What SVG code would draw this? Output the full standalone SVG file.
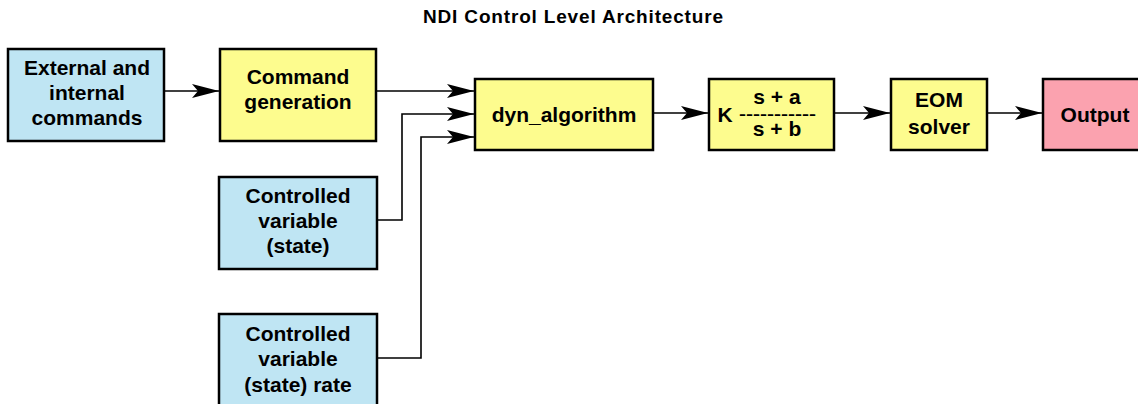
<svg xmlns="http://www.w3.org/2000/svg" width="1138" height="404" viewBox="0 0 1138 404">
<style>
.t{font-family:"Liberation Sans",Arial,sans-serif;font-weight:bold;font-size:21px;fill:#000;text-anchor:middle}
.title{font-size:19px}
.dash{font-size:14px}
.box{stroke:#000;stroke-width:2.5}
.blue{fill:#bfe5f3}
.yel{fill:#fdfc8e}
.pink{fill:#fba2af}
.c{fill:none;stroke:#000;stroke-width:1.6}
</style>
<defs>
<marker id="ah" markerUnits="userSpaceOnUse" markerWidth="28" markerHeight="14" refX="27" refY="7" orient="auto">
<path d="M0,0 L27,7 L0,14 L6,7 Z" fill="#000"/>
</marker>
</defs>
<rect width="1138" height="404" fill="#fff"/>
<text class="t title" x="573" y="23" textLength="300" lengthAdjust="spacing">NDI Control Level Architecture</text>
<g id="connectors">
<path class="c" d="M164,91 H219" marker-end="url(#ah)"/>
<path class="c" d="M376,91 H474" marker-end="url(#ah)"/>
<path class="c" d="M377,220 H402 V114 H474" marker-end="url(#ah)"/>
<path class="c" d="M377,358 H421 V137 H474" marker-end="url(#ah)"/>
<path class="c" d="M653,113 H708" marker-end="url(#ah)"/>
<path class="c" d="M834,113 H890" marker-end="url(#ah)"/>
<path class="c" d="M987,113 H1042" marker-end="url(#ah)"/>
</g>
<g id="ext">
<rect class="box blue" x="8" y="49" width="156" height="92"/>
<text class="t" x="87" y="75">External and</text>
<text class="t" x="87" y="100">internal</text>
<text class="t" x="87" y="125">commands</text>
</g>
<g id="cmdgen">
<rect class="box yel" x="220" y="49" width="156" height="92"/>
<text class="t" x="298" y="84">Command</text>
<text class="t" x="298" y="109">generation</text>
</g>
<g id="cvstate">
<rect class="box blue" x="219" y="177" width="158" height="92"/>
<text class="t" x="298" y="203">Controlled</text>
<text class="t" x="298" y="228">variable</text>
<text class="t" x="298" y="253">(state)</text>
</g>
<g id="cvrate">
<rect class="box blue" x="219" y="314" width="158" height="110"/>
<text class="t" x="298" y="341">Controlled</text>
<text class="t" x="298" y="366">variable</text>
<text class="t" x="298" y="392">(state) rate</text>
</g>
<g id="dyn">
<rect class="box yel" x="475" y="79" width="178" height="71"/>
<text class="t" x="564" y="122">dyn_algorithm</text>
</g>
<g id="tf">
<rect class="box yel" x="709" y="79" width="125" height="71"/>
<text class="t" x="725" y="122">K</text>
<text class="t" x="777" y="104">s + a</text>
<text class="t dash" x="777.5" y="118.5" textLength="77" lengthAdjust="spacingAndGlyphs">-----------</text>
<text class="t" x="777" y="136">s + b</text>
</g>
<g id="eom">
<rect class="box yel" x="891" y="79" width="96" height="71"/>
<text class="t" x="939" y="107">EOM</text>
<text class="t" x="939" y="134">solver</text>
</g>
<g id="output">
<rect class="box pink" x="1043" y="79" width="120" height="71"/>
<text class="t" x="1095" y="122">Output</text>
</g>
</svg>
